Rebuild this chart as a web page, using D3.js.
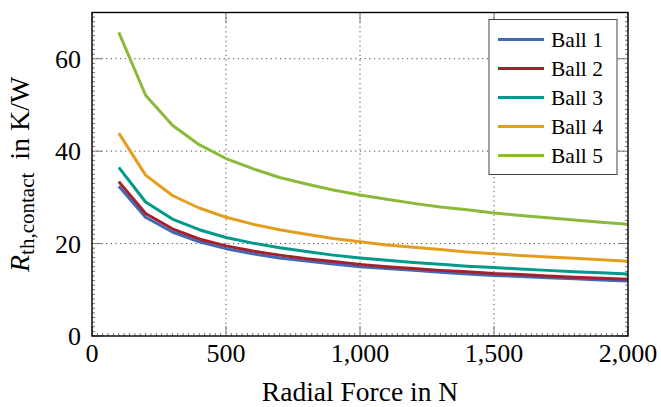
<!DOCTYPE html>
<html>
<head>
<meta charset="utf-8">
<script src="https://cdn.jsdelivr.net/npm/d3@7"></script>
<style>
  body { margin: 0; background: #fff; }
  svg text { font-family: "Liberation Serif", "Times New Roman", "DejaVu Serif", serif; }
</style>
</head>
<body>
<div id="vis"></div>
<script>
// radial force in N
const force = [100, 200, 300, 400, 500, 600, 700, 800, 900, 1000,
  1100, 1200, 1300, 1400, 1500, 1600, 1700, 1800, 1900, 2000];

// contact thermal resistance in K/W
const ball1 = [32.4, 25.7, 22.5, 20.4, 18.9, 17.8, 16.9, 16.2, 15.6, 15.0,
  14.6, 14.2, 13.8, 13.4, 13.1, 12.9, 12.6, 12.4, 12.1, 11.9];
const ball2 = [33.4, 26.5, 23.2, 21.0, 19.5, 18.4, 17.5, 16.7, 16.1, 15.5,
  15.0, 14.6, 14.2, 13.9, 13.5, 13.3, 13.0, 12.7, 12.5, 12.3];
const ball3 = [36.5, 29.0, 25.3, 23.0, 21.3, 20.1, 19.1, 18.3, 17.5, 16.9,
  16.4, 15.9, 15.5, 15.1, 14.8, 14.5, 14.2, 13.9, 13.7, 13.4];
const ball4 = [43.9, 34.8, 30.4, 27.7, 25.7, 24.2, 23.0, 22.0, 21.1, 20.4,
  19.7, 19.2, 18.7, 18.2, 17.8, 17.4, 17.1, 16.8, 16.5, 16.2];
const ball5 = [65.7, 52.1, 45.6, 41.4, 38.4, 36.2, 34.3, 32.9, 31.6, 30.5,
  29.6, 28.7, 27.9, 27.3, 26.6, 26.1, 25.6, 25.1, 24.6, 24.2];

const seriesNames = ["Ball 1", "Ball 2", "Ball 3", "Ball 4", "Ball 5"];
const seriesValues = [ball1, ball2, ball3, ball4, ball5];
const colors = ["#4169b4", "#a3212a", "#00998a", "#e49e1d", "#8bba3b"];

const xTicks = [0, 500, 1000, 1500, 2000];
const yTicks = [0, 20, 40, 60];

const serif = "Liberation Serif, Times New Roman, DejaVu Serif, serif";

// layout
const W = 661, H = 407;
const margin = { top: 12.5, right: 33, bottom: 71, left: 92 };
const width = W - margin.left - margin.right,
  height = H - margin.top - margin.bottom;

const x = d3.scaleLinear().domain([0, 2000]).range([0, width]);
const y = d3.scaleLinear().domain([0, 70]).range([height, 0]);

const svg = d3.select("#vis").append("svg")
  .attr("width", W).attr("height", H)
  .attr("font-family", serif);

const g = svg.append("g")
  .attr("transform", "translate(" + margin.left + "," + margin.top + ")");

// dotted grid
g.append("g").selectAll("line")
  .data(xTicks.slice(1, -1))
  .enter().append("line")
  .attr("x1", d => x(d)).attr("x2", d => x(d))
  .attr("y1", 0).attr("y2", height)
  .attr("stroke", "#333").attr("stroke-width", 0.9)
  .attr("stroke-dasharray", "1.2,3.5");

g.append("g").selectAll("line")
  .data(yTicks.slice(1))
  .enter().append("line")
  .attr("x1", 0).attr("x2", width)
  .attr("y1", d => y(d)).attr("y2", d => y(d))
  .attr("stroke", "#333").attr("stroke-width", 0.9)
  .attr("stroke-dasharray", "1.2,3.5");

// minor ticks (inward)
const xMinor = d3.range(0, 2001, 20).filter(d => d % 500 !== 0);
const yMinor = d3.range(0, 71, 1).filter(d => d % 20 !== 0);

g.append("g").selectAll("line")
  .data(xMinor).enter().append("line")
  .attr("x1", d => x(d)).attr("x2", d => x(d))
  .attr("y1", height).attr("y2", height - 3)
  .attr("stroke", "#555").attr("stroke-width", 0.8);

g.append("g").selectAll("line")
  .data(yMinor).enter().append("line")
  .attr("x1", 0).attr("x2", 3)
  .attr("y1", d => y(d)).attr("y2", d => y(d))
  .attr("stroke", "#555").attr("stroke-width", 0.8);

g.append("g").selectAll("line")
  .data(yMinor).enter().append("line")
  .attr("x1", width).attr("x2", width - 3)
  .attr("y1", d => y(d)).attr("y2", d => y(d))
  .attr("stroke", "#555").attr("stroke-width", 0.8);

// major ticks (inward, mirrored)
g.append("g").selectAll("line")
  .data(xTicks).enter().append("line")
  .attr("x1", d => x(d)).attr("x2", d => x(d))
  .attr("y1", height).attr("y2", height - 10)
  .attr("stroke", "#777").attr("stroke-width", 1);
g.append("g").selectAll("line")
  .data(xTicks).enter().append("line")
  .attr("x1", d => x(d)).attr("x2", d => x(d))
  .attr("y1", 0).attr("y2", 10)
  .attr("stroke", "#777").attr("stroke-width", 1);
g.append("g").selectAll("line")
  .data(yTicks).enter().append("line")
  .attr("x1", 0).attr("x2", 10)
  .attr("y1", d => y(d)).attr("y2", d => y(d))
  .attr("stroke", "#777").attr("stroke-width", 1);
g.append("g").selectAll("line")
  .data(yTicks).enter().append("line")
  .attr("x1", width).attr("x2", width - 10)
  .attr("y1", d => y(d)).attr("y2", d => y(d))
  .attr("stroke", "#777").attr("stroke-width", 1);

// curves
const line = d3.line()
  .x((d, i) => x(force[i]))
  .y(d => y(d));

g.append("g").selectAll("path")
  .data(seriesValues).enter().append("path")
  .attr("d", d => line(d))
  .attr("fill", "none")
  .attr("stroke", (d, i) => colors[i])
  .attr("stroke-width", 3)
  .attr("stroke-linejoin", "round");

// frame
g.append("rect")
  .attr("width", width).attr("height", height)
  .attr("fill", "none").attr("stroke", "#000").attr("stroke-width", 1.4);

// tick labels
g.append("g").selectAll("text")
  .data(xTicks).enter().append("text")
  .attr("x", d => x(d)).attr("y", height + 26)
  .attr("text-anchor", "middle")
  .attr("font-family", serif)
  .attr("font-size", 26)
  .text(d => d3.format(",")(d));

g.append("g").selectAll("text")
  .data(yTicks).enter().append("text")
  .attr("x", -11).attr("y", d => y(d) + 9)
  .attr("text-anchor", "end")
  .attr("font-family", serif)
  .attr("font-size", 26)
  .text(d => d);

// axis labels
svg.append("text")
  .attr("x", margin.left + width / 2).attr("y", 401)
  .attr("text-anchor", "middle")
  .attr("font-family", serif)
  .attr("font-size", 27.5)
  .text("Radial Force in N");

const yl = svg.append("text")
  .attr("transform", "translate(29," + (margin.top + height / 2) + ") rotate(-90)")
  .attr("text-anchor", "middle")
  .attr("font-family", serif)
  .attr("font-size", 28);
yl.append("tspan").attr("font-style", "italic").text("R");
yl.append("tspan").attr("font-size", 21).attr("dy", 5).text("th,contact");
yl.append("tspan").attr("dy", -5).attr("dx", 6).text(" in K/W");

// legend
const leg = g.append("g")
  .attr("transform", "translate(" + (width - 139) + ",7)");
leg.append("rect")
  .attr("width", 128).attr("height", 155)
  .attr("fill", "#fff").attr("stroke", "#444").attr("stroke-width", 1);

const rows = leg.selectAll("g")
  .data(seriesNames).enter().append("g")
  .attr("transform", (d, i) => "translate(0," + (20 + i * 29) + ")");
rows.append("line")
  .attr("x1", 9).attr("x2", 55)
  .attr("stroke", (d, i) => colors[i])
  .attr("stroke-width", 3);
rows.append("text")
  .attr("x", 62).attr("y", 7.5)
  .attr("font-family", serif)
  .attr("font-size", 21.5)
  .text(d => d);
</script>
</body>
</html>
